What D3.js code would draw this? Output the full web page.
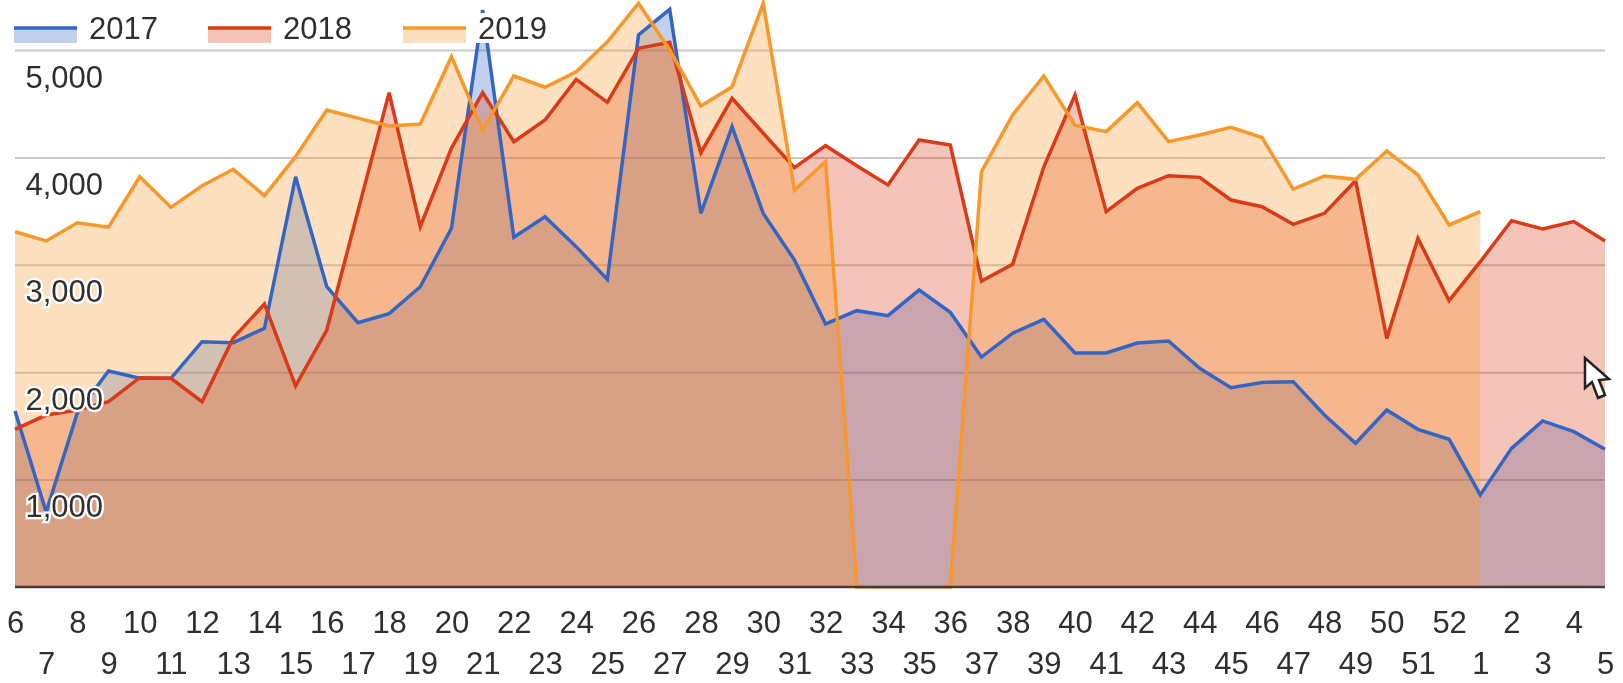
<!DOCTYPE html>
<html>
<head>
<meta charset="utf-8">
<script src="https://cdn.jsdelivr.net/npm/d3@7"></script>
<style>
    body { margin: 0; background: #fff; }
    svg { display: block; filter: blur(0.5px); }
    text { font-family: "Liberation Sans", Arial, sans-serif; font-size: 31px; fill: #2f2f2f; }
</style>
</head>
<body>
<div id="chart"></div>
<script>
const weeks = [6, 7, 8, 9, 10, 11, 12, 13, 14, 15, 16, 17, 18, 19, 20, 21, 22, 23, 24, 25, 26, 27, 28, 29,
    30, 31, 32, 33, 34, 35, 36, 37, 38, 39, 40, 41, 42, 43, 44, 45, 46, 47, 48, 49, 50, 51, 52, 1, 2, 3, 4, 5];

const values2017 = [1639, 698, 1623, 2011, 1943, 1943, 2284, 2275, 2409, 3820, 2796, 2461, 2546, 2796, 3340, 5372,
    3256, 3448, 3169, 2864, 5140, 5379, 3479, 4286, 3479, 3045, 2449, 2573, 2526, 2765, 2558, 2141,
    2363, 2492, 2179, 2179, 2272, 2290, 2036, 1856, 1905, 1912, 1601, 1338, 1648, 1468, 1375, 857,
    1291, 1546, 1446, 1282];

const values2018 = [1468, 1601, 1648, 1725, 1949, 1943, 1725, 2318, 2635, 1872, 2393, 3500, 4603, 3355, 4087, 4603,
    4146, 4348, 4727, 4513, 5016, 5071, 4044, 4550, 4225, 3904, 4109, 3923, 3743, 4162, 4115, 2849,
    3005, 3913, 4581, 3495, 3712, 3830, 3814, 3603, 3541, 3377, 3479, 3783, 2315, 3246, 2666, 3029,
    3411, 3333, 3402, 3222];

// 2019 stops at week 1
const values2019 = [3308, 3222, 3392, 3350, 3820, 3535, 3736, 3889, 3644, 4007, 4441, 4366, 4292, 4311, 4938, 4255,
    4758, 4653, 4798, 5077, 5435, 5000, 4478, 4658, 5435, 3696, 3960, 0, 0, 0, 0, 3867,
    4395, 4758, 4300, 4240, 4510, 4147, 4208, 4280, 4185, 3705, 3827, 3796, 4060, 3836, 3371, 3495];

const yTicks = [1000, 2000, 3000, 4000, 5000];

const seriesNames = ["2017", "2018", "2019"];
const seriesValues = [values2017, values2018, values2019];
const seriesColors = ["#3366c4", "#d93a18", "#f7982a"];

function createChart() {
    const margin = { top: 50, right: 18, bottom: 96, left: 15 };
    const width = 1623 - margin.left - margin.right;
    const height = 683 - margin.top - margin.bottom;

    const root = d3.select("#chart")
        .append("svg")
        .attr("width", 1623)
        .attr("height", 683);

    const svg = root.append("g")
        .attr("transform", `translate(${margin.left},${margin.top})`);

    const x = d3.scalePoint()
        .domain(weeks)
        .range([0, width]);

    const y = d3.scaleLinear()
        .domain([0, 5000])
        .range([height, 0]);

    // Gridlines, the tick text is added later so it sits on top of the areas
    const grid = svg.append("g")
        .call(d3.axisLeft(y).tickValues(yTicks).tickSize(-width).tickFormat(""));
    grid.select(".domain").remove();
    grid.selectAll("line").attr("stroke", "#c9c9c9").attr("stroke-width", 2);

    const area = d3.area()
        .x((d, i) => x(weeks[i]))
        .y0(height)
        .y1(d => y(d));

    const line = d3.line()
        .x((d, i) => x(weeks[i]))
        .y(d => y(d));

    // All areas first, the lines stay clean on top of them
    svg.selectAll(".area")
        .data(seriesValues)
        .join("path")
        .attr("class", "area")
        .attr("d", d => area(d))
        .attr("fill", (d, i) => seriesColors[i])
        .attr("fill-opacity", 0.3);

    svg.selectAll(".line")
        .data(seriesValues)
        .join("path")
        .attr("class", "line")
        .attr("d", d => line(d))
        .attr("fill", "none")
        .attr("stroke", (d, i) => seriesColors[i])
        .attr("stroke-width", 3.5);

    // Baseline
    svg.append("line")
        .attr("x1", 0)
        .attr("x2", width)
        .attr("y1", y(0))
        .attr("y2", y(0))
        .attr("stroke", "#4a3a36")
        .attr("stroke-width", 2.5);

    // Y labels sit inside the plot, below their gridline, with a white halo
    const yAxis = svg.append("g")
        .call(d3.axisRight(y).tickValues(yTicks).tickSize(0).tickFormat(d3.format(",")));
    yAxis.select(".domain").remove();
    yAxis.selectAll("text")
        .attr("x", 88)
        .attr("dy", 37)
        .attr("text-anchor", "end")
        .style("paint-order", "stroke")
        .style("stroke", "#fff")
        .style("stroke-width", 4.5);

    // X labels alternate between two rows
    const xAxis = svg.append("g")
        .attr("transform", `translate(0,${height})`)
        .call(d3.axisBottom(x).tickSize(0));
    xAxis.select(".domain").remove();
    xAxis.selectAll("text")
        .attr("y", (d, i) => (i % 2 === 0 ? 46 : 87))
        .attr("dy", 0);

    // Legend, its last label covers whatever is drawn behind it
    const legendX = [14, 208, 403];
    root.append("rect")
        .attr("x", 475)
        .attr("y", 13)
        .attr("width", 75)
        .attr("height", 30)
        .attr("fill", "#fff");

    const legend = root.selectAll(".legend")
        .data(seriesNames)
        .join("g")
        .attr("class", "legend")
        .attr("transform", (d, i) => `translate(${legendX[i]},0)`);

    legend.append("rect")
        .attr("y", 28)
        .attr("width", 63)
        .attr("height", 15)
        .attr("fill", (d, i) => seriesColors[i])
        .attr("fill-opacity", 0.3);

    legend.append("line")
        .attr("x2", 63)
        .attr("y1", 28)
        .attr("y2", 28)
        .attr("stroke", (d, i) => seriesColors[i])
        .attr("stroke-width", 3.5);

    legend.append("text")
        .attr("x", 75)
        .attr("y", 39)
        .text(d => d);

    // Mouse pointer caught in the screenshot
    root.append("path")
        .attr("transform", "translate(1585,358)")
        .attr("d", "M0,0 L0,30 L7,24 L13,40 L20,37 L14,22 L24,21 Z")
        .attr("fill", "#fff")
        .attr("stroke", "#222")
        .attr("stroke-width", 2.5);
}

createChart();
</script>
</body>
</html>
